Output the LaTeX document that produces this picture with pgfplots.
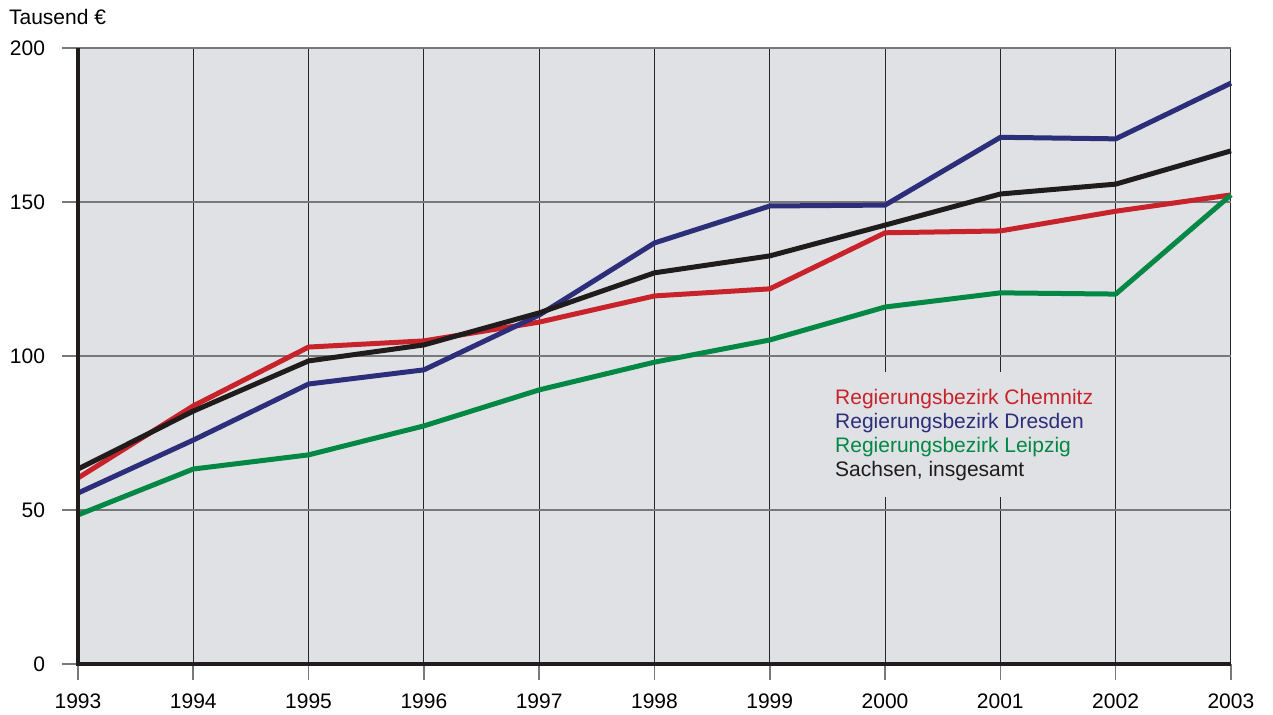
\documentclass[border=0pt]{standalone}
\usepackage{fontspec}
\setmainfont{Liberation Sans}
\usepackage{pgfplots}
\pgfplotsset{compat=1.18}
\definecolor{bg}{RGB}{224,225,228}
\definecolor{cred}{RGB}{200,35,43}
\definecolor{cblue}{RGB}{45,46,122}
\definecolor{cgreen}{RGB}{0,136,68}
\definecolor{cblack}{RGB}{32,28,28}
\definecolor{hgrid}{RGB}{120,120,120}
\begin{document}
\begin{tikzpicture}
\begin{axis}[
  scale only axis,
  width=576.5pt, height=308pt,
  xmin=1993, xmax=2003, ymin=0, ymax=200,
  xtick={1993,...,2003}, ytick={0,50,100,150,200},
  xticklabel style={/pgf/number format/1000 sep={}, yshift=-3.5pt},
  yticklabel style={xshift=-5pt},
  /pgf/number format/assume math mode=true,
  ticklabel style={font=\fontsize{10.5}{12}\selectfont},
  tick align=outside, major tick length=8pt,
  tick style={hgrid, line width=0.8pt},
  xtick pos=bottom, ytick pos=left,
  axis line style={draw=none},
  axis background/.style={fill=bg},
  xmajorgrids, ymajorgrids,
  x grid style={black!85, line width=0.5pt},
  y grid style={hgrid, line width=0.9pt},
  clip=false,
  legend style={at={(axis cs:1999.39,94.8)}, anchor=north west, fill=bg, draw=none,
    inner xsep=10pt, inner ysep=8pt, row sep=1.5pt,
    font=\fontsize{10.5}{12}\selectfont,
    nodes={inner sep=0pt, text height=8pt, text depth=2.5pt}},
  legend image code/.code={},
  legend cell align=left,
  every axis plot/.append style={line width=2.5pt, line join=round},
]
\addplot[cred] coordinates {(1993,60.4)(1994,83.8)(1995,102.9)(1996,104.9)(1997,111)(1998,119.5)(1999,121.8)(2000,140)(2001,140.6)(2002,147)(2003,152.3)};
\addlegendentry{\textcolor{cred}{Regierungsbezirk Chemnitz}}
\addplot[cblue] coordinates {(1993,55.5)(1994,72.7)(1995,90.9)(1996,95.5)(1997,113.3)(1998,136.7)(1999,148.7)(2000,149)(2001,171)(2002,170.5)(2003,188.6)};
\addlegendentry{\textcolor{cblue}{Regierungsbezirk Dresden}}
\addplot[cgreen] coordinates {(1993,48.4)(1994,63.3)(1995,67.9)(1996,77.3)(1997,89)(1998,98)(1999,105.2)(2000,115.9)(2001,120.5)(2002,120.1)(2003,152.3)};
\addlegendentry{\textcolor{cgreen}{Regierungsbezirk Leipzig}}
\addplot[cblack] coordinates {(1993,63.3)(1994,82.1)(1995,98.4)(1996,103.6)(1997,114)(1998,127)(1999,132.5)(2000,142.5)(2001,152.6)(2002,155.8)(2003,166.6)};
\addlegendentry{\textcolor{cblack}{Sachsen, insgesamt}}
\draw[cblack, line width=1.8pt] (rel axis cs:0,1) -- (rel axis cs:0,0) -- (rel axis cs:1,0);
\node[anchor=base west, xshift=-38pt, yshift=11.5pt, font=\fontsize{10.5}{12}\selectfont] at (rel axis cs:0,1) {Tausend €};
\coordinate (sw) at (rel axis cs:0,0);
\coordinate (ne) at (rel axis cs:1,1);
\end{axis}
\pgfresetboundingbox
\path ([xshift=-39pt,yshift=-25.5pt]sw) rectangle ([xshift=21pt,yshift=24pt]ne);
\end{tikzpicture}
\end{document}
